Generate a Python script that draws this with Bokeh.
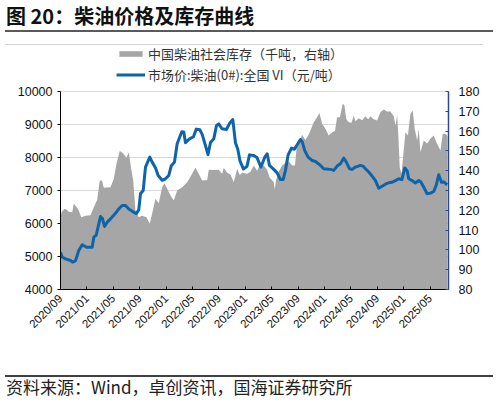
import math
from bokeh.plotting import figure
from bokeh.layouts import column
from bokeh.models import Range1d, LinearAxis, FixedTicker, Legend, LegendItem, Div
from bokeh.embed import file_html
from bokeh.resources import INLINE

# ---------------- data ----------------
title_text = "图 20：柴油价格及库存曲线"
source_text = "资料来源：Wind，卓创资讯，国海证券研究所"
stock_label = "中国柴油社会库存（千吨，右轴）"
price_label = "市场价:柴油(0#):全国 VI（元/吨）"

# x = months since 2020/09
tick_months = [0, 4, 8, 12, 16, 20, 24, 28, 32, 36, 40, 44, 48, 52, 56]
tick_labels = ["2020/09", "2021/01", "2021/05", "2021/09", "2022/01", "2022/05",
               "2022/09", "2023/01", "2023/05", "2023/09", "2024/01", "2024/05",
               "2024/09", "2025/01", "2025/05"]
left_ticks = [4000, 5000, 6000, 7000, 8000, 9000, 10000]
right_ticks = [80, 90, 100, 110, 120, 130, 140, 150, 160, 170, 180]

price_t = [0, 0.26, 0.76, 1.52, 1.82, 2.27, 2.77, 3.29, 3.94, 4.8,
           5.05, 5.41, 6.06, 6.36, 6.67, 7.08, 7.58, 8.33, 8.83, 9.35,
           9.85, 10.35, 11.11, 11.52, 11.86, 12.12, 12.53, 12.88, 13.53, 13.89,
           14.39, 14.8, 15.41, 15.91, 16.41, 16.77, 17.27, 17.68, 18.38, 18.68,
           18.94, 19.55, 20.15, 20.58, 21.11, 21.47, 21.97, 22.35, 22.73, 23.23,
           23.64, 23.98, 24.47, 25.15, 25.64, 26.11, 26.52, 26.86, 27.2, 27.73,
           28.26, 28.64, 29.29, 29.77, 30.38, 30.95, 31.32, 31.67, 32.32, 32.83,
           33.33, 33.74, 34.09, 34.5, 35.0, 35.45, 35.86, 36.36, 36.62, 37.02,
           37.53, 38.14, 38.64, 39.39, 39.89, 40.91, 41.41, 41.92, 42.42, 42.92,
           43.29, 43.79, 44.2, 44.7, 45.45, 45.91, 46.21, 46.71, 47.23, 47.73,
           48.23, 48.74, 49.24, 49.74, 50.26, 50.76, 51.26, 51.74, 52.17, 52.53,
           52.77, 53.29, 53.79, 54.29, 54.62, 55.05, 55.56, 56.06, 56.56, 56.92,
           57.32, 57.73, 58.11, 58.59]
price_v = [5130, 4980, 4930, 4880, 4830, 4870, 5180, 5355, 5280, 5280,
           5585, 5650, 6210, 6150, 5910, 6040, 6140, 6310, 6445, 6545,
           6545, 6440, 6340, 6300, 6415, 6900, 7000, 7710, 8010, 7860,
           7690, 7455, 7310, 7355, 7455, 7740, 7860, 8415, 8780, 8770,
           8450, 8565, 8630, 8860, 8840, 8700, 8360, 8085, 8455, 8565,
           8970, 9020, 8870, 8850, 9040, 9150, 8440, 8260, 7900, 7650,
           7730, 8080, 8060, 8000, 7710, 8010, 8110, 7760, 7640, 7535,
           7330, 7330, 7610, 8080, 8285, 8250, 8385, 8545, 8480, 8210,
           8010, 7910, 7880, 7760, 7660, 7640, 7610, 7740, 7810, 7980,
           7870, 7660, 7640, 7710, 7760, 7730, 7660, 7560, 7435, 7300,
           7070, 7130, 7190, 7235, 7250, 7300, 7355, 7330, 7680, 7600,
           7355, 7300, 7230, 7300, 7260, 7100, 6900, 6920, 6970, 7150,
           7475, 7250, 7260, 7170]

stock_t = [0, 0.15, 0.53, 0.76, 1.26, 1.77, 2.02, 2.35, 2.77, 3.14,
           3.79, 4.55, 5.05, 5.56, 5.95, 6.29, 6.56, 6.97, 7.58, 8.08,
           8.48, 8.98, 9.47, 10.0, 10.35, 10.71, 11.02, 11.36, 11.86, 12.35,
           13.03, 13.53, 14.05, 14.39, 14.89, 15.41, 15.76, 16.17, 16.67, 17.17,
           17.68, 18.44, 19.2, 19.95, 20.45, 20.95, 21.47, 22.23, 22.47, 23.23,
           23.98, 24.5, 24.74, 25.26, 25.76, 26.26, 26.77, 27.17, 27.53, 28.29,
           28.79, 29.29, 29.8, 30.3, 30.8, 31.32, 31.67, 32.32, 32.47, 32.65,
           33.08, 33.59, 34.09, 34.59, 35.11, 35.53, 35.86, 36.36, 36.62, 37.12,
           37.53, 37.88, 38.38, 38.89, 39.24, 39.65, 40.15, 40.65, 41.17, 41.59,
           41.92, 42.35, 42.77, 43.03, 43.29, 43.68, 44.09, 44.44, 44.7, 45.2,
           45.71, 46.21, 46.62, 46.97, 47.47, 47.98, 48.48, 48.98, 49.5, 50.0,
           50.5, 50.76, 51.02, 51.21, 51.41, 51.67, 51.89, 52.27, 52.65, 53.03,
           53.38, 53.68, 54.05, 54.29, 54.55, 55.05, 55.56, 56.06, 56.56, 57.07,
           57.58, 57.92, 58.33, 58.64]
stock_v = [117, 119, 120.5, 120.7, 119.3, 119, 123.3, 122, 119.9, 116.5,
           117.2, 117.5, 121.6, 125.3, 135.1, 135, 131.4, 131.5, 131.6, 135.9,
           143.5, 149.9, 148.8, 146.5, 149.3, 141, 135.1, 119.9, 116.5, 117.2,
           116.5, 113.2, 120.7, 125.8, 123.5, 131.7, 133.7, 130.9, 127.5, 124.9,
           130, 131.7, 134.2, 138.4, 141.5, 138.4, 135.1, 135.3, 140.5, 140.3,
           140.5, 138.4, 141.5, 139, 138.1, 134.2, 141, 137.8, 139, 138.4,
           139.5, 142.6, 140, 143.5, 142.6, 140.5, 136.7, 134.2, 130.5, 135,
           139.6, 142.6, 144, 144.8, 142.6, 142.6, 154.4, 155.8, 158.1, 155.5,
           157.8, 160.3, 164.5, 167, 169.2, 163.7, 161.2, 157.8, 159.4, 160,
           167, 167, 173.8, 173, 166.2, 164.5, 164.2, 167.9, 165, 166.5,
           165.5, 167.5, 166, 167.5, 166, 165.4, 169.5, 170.9, 169.9, 169.9,
           167.5, 162.8, 168, 157, 141.8, 138.4, 146, 159.4, 157.8, 168.7,
           170.4, 161.2, 155.3, 161, 149.3, 155.3, 153.8, 156.1, 157.8, 153.6,
           150.2, 158.6, 158.6, 157.5]

# ---------------- styles ----------------
GRAY = "#a6a6a6"
BLUE = "#0e64aa"
NAVY = "#2c4a8a"
CJK = "'Noto Sans CJK SC'"
LAT = "Liberation Sans"
W = 496

# plot frame: 244 px tall; axes cover the lower 198 px, legend sits in the top 46 px
LEFT_MIN, LEFT_MAX = 4000, 10000
RIGHT_MIN, RIGHT_MAX = 80, 180
FRAME_H, AXIS_H, BOTTOM = 244, 198, 54
left_top = LEFT_MIN + (LEFT_MAX - LEFT_MIN) * FRAME_H / AXIS_H
right_top = RIGHT_MIN + (RIGHT_MAX - RIGHT_MIN) * FRAME_H / AXIS_H

# ---------- header (title and rules) ----------
header = Div(width=W, height=45, margin=0, text=(
    '<div style="position:relative;width:496px;height:45px;">'
    '<div style="position:absolute;left:6px;top:3px;font-family:' + CJK + ';'
    'font-size:20px;font-weight:bold;color:#111111;line-height:26px;'
    'white-space:nowrap;">' + title_text + '</div>'
    '<div style="position:absolute;left:5px;top:30px;width:488px;height:2px;'
    'background:#5a5a5a;"></div>'
    '<div style="position:absolute;left:5px;top:44px;width:478px;height:1px;'
    'background:#d3d3d3;"></div>'
    '</div>'))

# ---------- main chart ----------
p = figure(width=W, height=FRAME_H + BOTTOM, output_backend="svg", toolbar_location=None,
           x_range=Range1d(0, 58.8), y_range=Range1d(LEFT_MIN, left_top),
           min_border_left=60, min_border_right=48, min_border_top=0,
           min_border_bottom=BOTTOM, margin=0)
p.outline_line_color = None
p.extra_y_ranges = {"inv": Range1d(RIGHT_MIN, right_top)}

area_r = p.varea(x=stock_t, y1=RIGHT_MIN, y2=stock_v, y_range_name="inv",
                 fill_color=GRAY, fill_alpha=1.0)
line_r = p.line(x=price_t, y=price_v, line_color=BLUE, line_width=3,
                line_join="round")

p.xaxis.ticker = FixedTicker(ticks=tick_months)
p.xaxis.major_label_overrides = {m: s for m, s in zip(tick_months, tick_labels)}
p.xaxis.major_label_orientation = math.pi / 4
p.xaxis.major_tick_in = 3
p.xaxis.major_tick_out = 0
p.xaxis.minor_tick_line_color = None
p.xaxis.axis_line_color = "#000000"
p.xaxis.major_tick_line_color = "#000000"
p.xaxis.major_label_text_font = LAT
p.xaxis.major_label_text_font_size = "11.5px"
p.xaxis.major_label_text_color = "#111111"
p.xaxis.major_label_standoff = 7

p.yaxis.ticker = FixedTicker(ticks=left_ticks)
p.yaxis.bounds = (LEFT_MIN, LEFT_MAX)
p.yaxis.major_tick_in = 0
p.yaxis.major_tick_out = 3
p.yaxis.minor_tick_line_color = None
p.yaxis.axis_line_color = "#000000"
p.yaxis.major_tick_line_color = "#000000"
p.yaxis.major_label_text_font = LAT
p.yaxis.major_label_text_font_size = "12.5px"
p.yaxis.major_label_text_color = "#111111"
p.yaxis.major_label_standoff = 5

raxis = LinearAxis(y_range_name="inv", ticker=FixedTicker(ticks=right_ticks),
                   bounds=(RIGHT_MIN, RIGHT_MAX))
raxis.major_tick_in = 3
raxis.major_tick_out = 0
raxis.minor_tick_line_color = None
raxis.axis_line_color = NAVY
raxis.axis_line_width = 1.5
raxis.major_tick_line_color = NAVY
raxis.major_label_text_font = LAT
raxis.major_label_text_font_size = "12.5px"
raxis.major_label_text_color = "#111111"
raxis.major_label_standoff = 10
p.add_layout(raxis, "right")

p.xgrid.grid_line_color = None
p.ygrid.ticker = FixedTicker(ticks=left_ticks)
p.ygrid.grid_line_color = "#d9d9d9"

legend = Legend(items=[LegendItem(label=stock_label, renderers=[area_r]),
                       LegendItem(label=price_label, renderers=[line_r])],
                location=(56, 205), orientation="vertical",
                border_line_color=None, background_fill_alpha=0,
                padding=0, margin=0, spacing=2, glyph_width=29, glyph_height=7,
                label_standoff=3, label_height=16,
                label_text_font="Noto Sans CJK SC", label_text_font_size="13px",
                label_text_color="#333333")
p.add_layout(legend, "center")

# ---------- footer (rule and source) ----------
footer = Div(width=W, height=57, margin=0, text=(
    '<div style="position:relative;width:496px;height:57px;">'
    '<div style="position:absolute;left:5px;top:32px;width:488px;height:1.5px;'
    'background:#404040;"></div>'
    '<div style="position:absolute;left:6px;top:33px;font-family:' + CJK + ';'
    'font-size:17px;color:#222222;line-height:22px;white-space:nowrap;">'
    + source_text + '</div>'
    '</div>'))

page = column(header, p, footer, spacing=0)
open("out.html", "w").write(file_html(page, INLINE))
